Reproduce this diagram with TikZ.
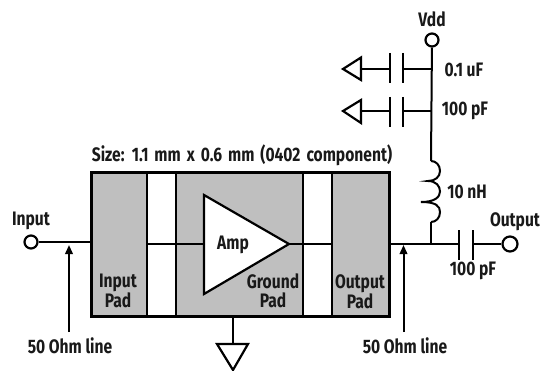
\documentclass[tikz,border=0pt]{standalone}
\usepackage{fontspec}
\setmainfont{Fira Sans}[FakeStretch=0.8,UprightFont=* Bold,BoldFont=* Bold]
\usetikzlibrary{arrows.meta}
\tikzset{
  wire/.style={line width=2pt,black},
  frame/.style={line width=3pt,black},
  term/.style={circle,draw,line width=2.2pt,fill=white,minimum size=13pt,inner sep=0pt},
  lbl/.style={inner sep=0pt,font=\fontsize{19.5}{19}\selectfont,align=center,text=black!90},
  tri/.style={line width=2.2pt,fill=white,line join=miter},
  ptr/.style={line width=2pt,-{Triangle[length=9pt,width=7.5pt]}},
}
\begin{document}
\begin{tikzpicture}[x=1pt,y=-1pt]
\useasboundingbox (0,0) rectangle (540,371);
% chip
\fill[black!25] (91,173) rectangle (389,316);
\fill[white] (147,173) rectangle (176,316);
\fill[white] (303,173) rectangle (332,316);
\draw[frame] (91,173) rectangle (389,316);
\draw[line width=2.2pt] (147,173)--(147,316) (176,173)--(176,316) (303,173)--(303,316) (332,173)--(332,316);
% terminals
\node[term] (in) at (31,242) {};
\node[term] (vdd) at (432,40) {};
\node[term,minimum width=15pt] (out) at (510,244) {};
\coordinate (inpad) at (91,242);
\coordinate (padl) at (147,244);
\coordinate (ampin) at (204,244);
\coordinate (ampout) at (289,244);
\coordinate (padr) at (332,244);
\coordinate (outpad) at (389,244);
\coordinate (tee) at (431,244);
\coordinate (lt) at (431,161);
\coordinate (lb) at (431,222);
\coordinate (c1) at (431,69);
\coordinate (c2) at (431,111);
% wires
\draw[wire] (in)--(inpad);
\draw[wire] (padl)--(ampin);
\draw[wire] (ampout)--(padr);
\draw[wire] (outpad)--(tee)--(459,244);
\draw[wire] (473,244)--(out);
\draw[wire] (vdd)--(lt);
\draw[wire] (lb)--(tee);
% inductor
\draw[wire,line join=miter] (lt) .. controls (436,161) and (440,165) .. (440,171) .. controls (440,177) and (435,181) .. (428,181)
  .. controls (436,181) and (440,186) .. (440,191.5) .. controls (440,197) and (435,202) .. (421,202)
  .. controls (436,202) and (440,206) .. (440,212) .. controls (440,218) and (436,222) .. (lb);
% amp
\draw[tri] (204,195)--(289,244)--(204,294)--cycle;
% caps to ground
\draw[wire] (c1)--(403,69) (390,69)--(361,69);
\draw[wire] (c2)--(403,111) (390,111)--(361,111);
\draw[wire] (390,53)--(390,83) (403,53)--(403,83);
\draw[wire] (390,97)--(390,127) (403,97)--(403,127);
\draw[tri] (343,69)--(361,57.5)--(361,80)--cycle;
\draw[tri] (343,111)--(361,100)--(361,123)--cycle;
% output cap
\draw[wire] (459,230)--(459,260) (473,230)--(473,260);
% ground
\coordinate (gnd) at (233,344);
\draw[wire] (233,316)--(gnd);
\draw[tri] (217,344)--(248,344)--(233,370)--cycle;
% pointers
\draw[ptr] (69,332)--(69,245);
\draw[ptr] (403.5,332)--(403.5,245);
% text
\node[lbl] (size) at (242,155.5) {\spaceskip=6pt Size: 1.1 mm x 0.6 mm (0402 component)};
\node[lbl] (tin) at (31,221) {Input};
\node[lbl] (tout) at (515,222) {Output};
\node[lbl] (tvdd) at (432,19) {Vdd};
\node[lbl] (t01) at (464,70) {0.1 uF};
\node[lbl] (t100) at (465,111) {100 pF};
\node[lbl] (t10) at (467,192) {10 nH};
\node[lbl] (t100b) at (473,271) {100 pF};
\node[lbl] (tamp) at (233,245) {Amp};
\node[lbl] (tip) at (118,291) {Input\\Pad};
\node[lbl] (tgp) at (273,291) {Ground\\Pad};
\node[lbl] (top) at (360,292) {Output\\Pad};
\node[lbl] (l1) at (70,346) {50 Ohm line};
\node[lbl] (l2) at (405,346) {50 Ohm line};
\end{tikzpicture}
\end{document}
